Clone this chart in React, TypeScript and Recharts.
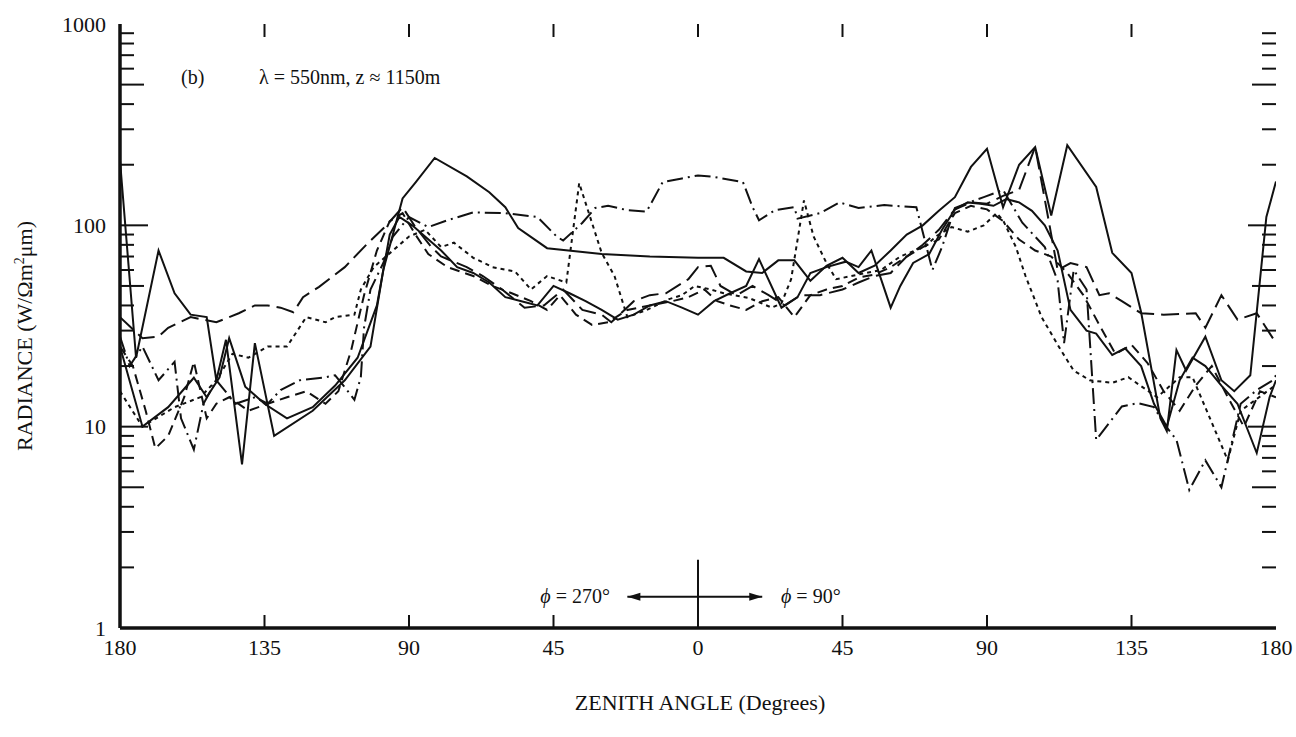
import React from "react";
import {
  LineChart,
  Line,
  XAxis,
  YAxis,
  ReferenceLine,
} from "recharts";

// zenith angle (deg, phi=270 side negative) vs radiance (W / sr m^2 um)
const solidUpper: [number, number][] = [
  [-180, 210], [-175, 22], [-168, 75], [-163, 46], [-158, 36], [-153, 35], [-150, 17],
  [-147, 27], [-142, 6.5], [-138, 26], [-132, 9], [-120, 12], [-110, 17], [-102, 25],
  [-98, 60], [-92, 136], [-88, 163], [-82, 216], [-72, 175], [-65, 146], [-60, 123],
  [-56, 97], [-47, 77], [-30, 72], [-15, 70], [0, 69], [8, 69], [15, 59], [20, 58],
  [25, 67], [30, 67], [35, 53], [40, 63], [45, 69], [50, 58], [55, 63], [60, 75],
  [65, 90], [70, 100], [75, 118], [80, 138], [85, 195], [90, 240], [95, 123],
  [100, 200], [105, 245], [110, 112], [115, 250], [124, 155], [129, 73], [135, 58],
  [138, 37], [144, 11], [146, 9.5], [149, 24], [152, 19], [158, 28], [163, 17],
  [167, 15], [172, 18], [177, 110], [180, 165],
];

const solidLower: [number, number][] = [
  [-180, 25], [-173, 10], [-165, 12.5], [-157, 17.5], [-153, 14], [-149, 17.6],
  [-146, 27.5], [-141, 15.8], [-135, 13], [-128, 11], [-120, 12.5], [-113, 16],
  [-106, 22], [-100, 40], [-96, 90], [-93, 110], [-89, 100], [-85, 88], [-80, 75],
  [-75, 62], [-70, 58], [-65, 52], [-60, 44], [-55, 42], [-50, 40], [-45, 50],
  [-40, 46], [-35, 42], [-30, 38], [-25, 34], [-20, 36], [-15, 40], [-10, 42],
  [-5, 39], [0, 36], [5, 42], [10, 46], [15, 50], [19, 68], [26, 39], [31, 44],
  [35, 58], [40, 62], [46, 66], [50, 62], [54, 75], [60, 39], [63, 50], [67, 65],
  [72, 72], [76, 95], [80, 120], [84, 130], [88, 128], [92, 125], [96, 135],
  [100, 130], [104, 118], [108, 100], [112, 75], [116, 38], [121, 30], [124, 29],
  [129, 22.7], [133, 24.5], [138, 20], [142, 13], [146, 10], [150, 17], [154, 22],
  [158, 20], [163, 16], [168, 13], [174, 7.4], [178, 14], [180, 17],
];

const longDash: [number, number][] = [
  [-180, 35], [-173, 27.5], [-168, 28], [-165, 31], [-158, 35], [-150, 33],
  [-143, 36.6], [-138, 40], [-134, 40], [-130, 39], [-126, 37], [-123, 44],
  [-118, 49.5], [-110, 62], [-103, 81], [-97, 100], [-92, 123], [-88, 98], [-83, 78],
  [-80, 70], [-72, 62], [-67, 56], [-61, 48], [-54, 39], [-48, 40], [-42, 48],
  [-36, 38], [-30, 36], [-27, 33], [-20, 42], [-15, 45], [-10, 46], [-3, 54],
  [0, 62], [4, 63], [7, 50], [12, 45], [17, 50], [22, 45], [27, 40], [32, 45],
  [38, 45], [45, 48], [50, 52], [55, 56], [60, 58], [65, 70], [70, 80], [75, 95],
  [80, 120], [85, 130], [90, 128], [95, 140], [100, 150], [105, 245], [109, 110],
  [112, 60], [116, 65], [121, 62], [125, 45], [128, 46], [132, 42], [138, 36.6],
  [145, 36], [155, 36.6], [158, 31], [163, 45], [168, 34], [174, 36.6], [180, 26],
];

const mediumDash: [number, number][] = [
  [-180, 25], [-176, 20], [-172, 12], [-169, 7.8], [-165, 9], [-160, 14], [-157, 21],
  [-153, 11], [-150, 13], [-146, 14], [-140, 12], [-134, 13], [-128, 14], [-122, 15],
  [-116, 13], [-112, 15], [-108, 24], [-104, 45], [-100, 75], [-96, 105], [-92, 115],
  [-88, 90], [-84, 72], [-78, 62], [-70, 56], [-64, 50], [-58, 46], [-52, 42],
  [-47, 38], [-43, 45], [-38, 36], [-33, 32], [-28, 33], [-22, 38], [-15, 40],
  [-8, 42], [-3, 44], [2, 48], [6, 42], [10, 40], [15, 38], [20, 42], [25, 44],
  [30, 35], [35, 45], [40, 48], [45, 50], [50, 55], [55, 57], [60, 62], [65, 70],
  [70, 78], [75, 85], [80, 115], [85, 125], [90, 120], [95, 105], [100, 85],
  [105, 75], [110, 70], [115, 58], [120, 45], [125, 32], [130, 23], [135, 25.5],
  [140, 20.7], [145, 15], [150, 12], [155, 16], [160, 20], [165, 14], [170, 10],
  [175, 15], [180, 14],
];

const shortDash: [number, number][] = [
  [-180, 15], [-173, 10], [-163, 12.5], [-155, 14], [-150, 17], [-145, 23],
  [-140, 22], [-134, 25], [-128, 25], [-122, 35], [-116, 33], [-113, 35], [-107, 36],
  [-105, 48], [-101, 62], [-95, 75], [-90, 88], [-85, 95], [-80, 78], [-76, 82],
  [-70, 69], [-64, 62], [-57, 59], [-52, 48], [-47, 56], [-41, 52], [-37, 162],
  [-30, 73], [-26, 56], [-22, 35], [-16, 38], [-9, 43], [-5, 45], [-1, 50], [4, 48],
  [8, 46], [16, 43.5], [23, 39], [26, 41], [29, 54], [33, 133], [36, 88], [40, 65],
  [43, 54], [50, 57], [57, 60], [63, 70], [71, 79], [74, 88], [79, 98], [84, 93],
  [89, 100], [93, 115], [95, 106], [99, 78], [102, 56], [107, 35], [113, 24],
  [117, 19], [122, 17], [129, 16.5], [134, 17.6], [143, 14], [150, 17.6], [154, 17.6],
  [165, 6.8], [169, 12], [179, 15.7], [180, 16],
];

const dashDot: [number, number][] = [
  [-180, 28], [-177, 20], [-173, 25], [-168, 17], [-163, 21], [-161, 11], [-157, 7.7],
  [-154, 13], [-150, 17], [-144, 13], [-138, 14], [-134, 13], [-130, 15.2],
  [-124, 17], [-116, 17.6], [-113, 18], [-110, 15.7], [-107, 13.6], [-105, 17.6],
  [-104, 31], [-102, 48], [-98, 65], [-95, 88], [-90, 110], [-84, 98], [-78, 106],
  [-70, 116], [-60, 115], [-54, 112], [-50, 110], [-44, 88], [-42, 84], [-36, 103],
  [-32, 122], [-28, 125], [-22, 119], [-16, 117], [-11, 164], [-5, 171], [0, 177],
  [5, 174], [14, 164], [17, 123], [19, 106], [24, 119], [30, 123], [31, 108],
  [38, 115], [44, 130], [50, 122], [58, 126], [68, 123], [73, 60], [76, 78],
  [80, 122], [85, 131], [89, 138], [95, 150], [101, 103], [108, 78], [112, 53],
  [114, 26], [117, 60], [121, 48], [124, 8.6], [132, 12.6], [137, 13.1], [142, 12.5],
  [145, 10.4], [149, 8.6], [153, 4.85], [158, 6.8], [163, 5.0], [169, 13],
  [174, 15.2], [179, 17], [180, 18],
];

const angleTicks = [-180, -135, -90, -45, 0, 45, 90, 135, 180];
const radianceTicks = [1, 10, 100, 1000];
const majorMarks = [10, 100];
const halfDecade = [5, 50, 500];
const minorMarks = [2, 3, 4, 6, 7, 8, 9, 20, 30, 40, 60, 70, 80, 90, 200, 300, 400, 600, 700, 800, 900];
const frameTicks = [-135, -90, -45, 45, 90, 135];

const toPoints = (pairs: [number, number][]) =>
  pairs.map(([angle, value]) => ({ angle, value }));

const FONT = "'Liberation Serif', 'Times New Roman', serif";
const INK = "#111";

const series = [
  { name: "solidUpper", data: solidUpper, dash: undefined },
  { name: "solidLower", data: solidLower, dash: undefined },
  { name: "longDash", data: longDash, dash: "18 7" },
  { name: "mediumDash", data: mediumDash, dash: "10 6" },
  { name: "shortDash", data: shortDash, dash: "4 4" },
  { name: "dashDot", data: dashDot, dash: "16 5 2 5" },
];

// inward tick marks drawn as short segments in data space
const tickLen = (px: number) => px / 3.211; // px -> degrees
const vertFactor = (px: number) => Math.pow(10, px / 201.3); // px -> log factor

const ArrowLine = (props: any) => {
  const { x1, y1, x2, y2 } = props;
  const dir = Math.sign(x2 - x1);
  return (
    <g>
      <line x1={x1} y1={y1} x2={x2} y2={y2} stroke={INK} strokeWidth={2} />
      <polygon
        points={`${x2},${y2} ${x2 - dir * 13},${y2 - 4} ${x2 - dir * 13},${y2 + 4}`}
        fill={INK}
      />
    </g>
  );
};

function sideTicks(vals: number[], px: number, key: string) {
  const d = tickLen(px);
  return vals.flatMap((v) => [
    <ReferenceLine
      key={`${key}-l-${v}`}
      segment={[{ x: -180, y: v }, { x: -180 + d, y: v }]}
      stroke={INK}
      strokeWidth={2}
    />,
    <ReferenceLine
      key={`${key}-r-${v}`}
      segment={[{ x: 180 - d, y: v }, { x: 180, y: v }]}
      stroke={INK}
      strokeWidth={2}
    />,
  ]);
}

export default function App() {
  const f = vertFactor(13);
  return (
    <div
      style={{
        position: "absolute",
        left: 0,
        top: 0,
        width: 1296,
        height: 737,
        background: "#fff",
        fontFamily: FONT,
        color: INK,
      }}
    >
      <LineChart
        width={1296}
        height={737}
        margin={{ top: 24, right: 20, left: 60, bottom: 69 }}
      >
        <XAxis
          dataKey="angle"
          type="number"
          domain={[-180, 180]}
          ticks={angleTicks}
          tickFormatter={(v: number) => String(Math.abs(v))}
          tickSize={0}
          tickMargin={11}
          height={40}
          axisLine={{ stroke: INK, strokeWidth: 3.5 }}
          tick={{ fill: INK, fontSize: 22, fontFamily: FONT }}
          allowDataOverflow
        />
        <XAxis
          xAxisId="top"
          orientation="top"
          type="number"
          domain={[-180, 180]}
          height={0}
          tick={false}
          tickLine={false}
          axisLine={{ stroke: INK, strokeWidth: 3.5 }}
        />
        <YAxis
          type="number"
          scale="log"
          domain={[1, 1000]}
          ticks={radianceTicks}
          tickSize={0}
          tickMargin={14}
          width={60}
          axisLine={{ stroke: INK, strokeWidth: 3.5 }}
          tick={{ fill: INK, fontSize: 22, fontFamily: FONT }}
          allowDataOverflow
        />
        <YAxis
          yAxisId="right"
          orientation="right"
          type="number"
          scale="log"
          domain={[1, 1000]}
          width={0}
          tick={false}
          tickLine={false}
          axisLine={{ stroke: INK, strokeWidth: 3.5 }}
        />

        {sideTicks(majorMarks, 28, "maj")}
        {sideTicks(halfDecade, 24, "half")}
        {sideTicks(minorMarks, 14, "min")}

        {frameTicks.map((a) => (
          <ReferenceLine
            key={`b-${a}`}
            segment={[{ x: a, y: 1 }, { x: a, y: f }]}
            stroke={INK}
            strokeWidth={2}
          />
        ))}
        {[...frameTicks, 0].map((a) => (
          <ReferenceLine
            key={`t-${a}`}
            segment={[{ x: a, y: 1000 / f }, { x: a, y: 1000 }]}
            stroke={INK}
            strokeWidth={2}
          />
        ))}

        {/* phi divider and arrows */}
        <ReferenceLine
          segment={[{ x: 0, y: 1 }, { x: 0, y: 2.18 }]}
          stroke={INK}
          strokeWidth={2}
        />
        <ReferenceLine
          segment={[{ x: 0, y: 1.43 }, { x: -22, y: 1.43 }]}
          shape={ArrowLine}
        />
        <ReferenceLine
          segment={[{ x: 0, y: 1.43 }, { x: 20, y: 1.43 }]}
          shape={ArrowLine}
        />

        {series.map((s) => (
          <Line
            key={s.name}
            data={toPoints(s.data)}
            dataKey="value"
            type="linear"
            stroke={INK}
            strokeWidth={2}
            strokeDasharray={s.dash}
            dot={false}
            isAnimationActive={false}
          />
        ))}
      </LineChart>

      {/* annotations */}
      <div style={{ position: "absolute", left: 181, top: 66, fontSize: 20 }}>(b)</div>
      <div style={{ position: "absolute", left: 259, top: 66, fontSize: 20, whiteSpace: "nowrap" }}>
        λ = 550nm, z ≈ 1150m
      </div>
      <div
        style={{ position: "absolute", right: 1296 - 610, top: 585, fontSize: 20, whiteSpace: "nowrap" }}
      >
        <i>ϕ</i> = 270°
      </div>
      <div
        style={{ position: "absolute", left: 781, top: 585, fontSize: 20, whiteSpace: "nowrap" }}
      >
        <i>ϕ</i> = 90°
      </div>

      <div
        style={{
          position: "absolute",
          left: 0,
          width: 1400,
          top: 690,
          textAlign: "center",
          fontSize: 22,
          whiteSpace: "nowrap",
        }}
      >
        ZENITH ANGLE (Degrees)
      </div>
      <div
        style={{
          position: "absolute",
          left: 25,
          top: 336,
          transform: "translate(-50%, -50%) rotate(-90deg)",
          fontSize: 22,
          whiteSpace: "nowrap",
        }}
      >
        RADIANCE (W/Ωm<sup style={{ fontSize: 14 }}>2</sup>μm)
      </div>
    </div>
  );
}
